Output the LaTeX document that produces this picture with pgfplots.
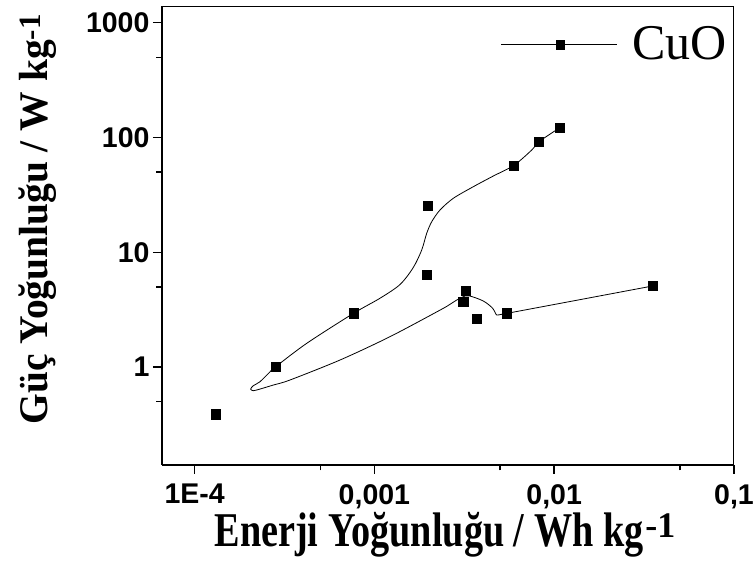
\documentclass[border=0pt]{standalone}
\usepackage{pgfplots}
\pgfplotsset{compat=1.18}
\usepackage{fontspec}
\setmainfont{Liberation Serif}
\setsansfont{Liberation Sans}
\usepackage{graphicx}
\begin{document}
\begin{tikzpicture}
\begin{axis}[
  at={(0,0)}, anchor=south west,
  scale only axis, width=572pt, height=459pt,
  xmode=log, ymode=log,
  xmin=6.585e-5, xmax=0.1,
  ymin=0.1404, ymax=1398,
  axis lines*=left,
  axis line style={-, line width=1.8pt},
  xtick={1e-4,1e-3,1e-2,1e-1},
  xticklabels={\textsf{\textbf{1E-4}},\textsf{\textbf{0,001}},\textsf{\textbf{0,01}},\textsf{\textbf{0,1}}},
  ytick={1,10,100,1000},
  yticklabels={\textsf{\textbf{1}},\textsf{\textbf{10}},\textsf{\textbf{100}},\textsf{\textbf{1000}}},
  minor xtick={5e-4,5e-3,5e-2},
  minor ytick={0.5,5,50,500},
  tick align=outside,
  major tick length=9pt, minor tick length=5.5pt,
  every tick/.style={black, line width=1.5pt},
  tick label style={font=\fontsize{28.5}{30}\selectfont\sffamily\bfseries},
  xticklabel style={inner sep=0pt, yshift=-10pt},
  xlabel={\scalebox{1}[1.27]{\fontsize{38.2}{40}\selectfont Enerji Yoğunluğu / Wh kg}\kern2pt\raisebox{9pt}{\fontsize{36}{36}\selectfont -1}},
  ylabel={\scalebox{1}[1.03]{\fontsize{39.5}{42}\selectfont Güç Yoğunluğu / W kg}\raisebox{7pt}{\fontsize{31}{31}\selectfont -1}},
  label style={font=\bfseries, inner sep=0pt},
  xlabel style={at={(axis description cs:0.4948,-0.1785)}, anchor=base},
  ylabel style={at={(axis description cs:-0.1993,0.5355)}, anchor=base},
  legend style={draw=none, fill=none, font=\fontsize{50}{50}\selectfont,
    at={(axis description cs:0.592,0.918)}, anchor=west,
    inner sep=0pt, nodes={inner sep=0pt}, column sep=15pt},
  after end axis/.code={\draw[line width=1pt] (rel axis cs:0,1) -- (rel axis cs:1,1) -- (rel axis cs:1,0);},
]
\addplot[black, line width=0.8pt, smooth, no marks, forget plot] coordinates {
 (3.53e-2,5.09) (1.391e-2,3.87) (5.46e-3,2.94) (5.10e-3,2.884) (4.79e-3,2.843)
 (4.69e-3,3.00) (4.55e-3,3.25) (4.30e-3,3.52) (4.03e-3,3.77) (3.71e-3,3.98)
 (3.40e-3,4.16) (3.19e-3,4.16) (2.87e-3,3.84) (2.63e-3,3.52) (2.32e-3,3.14)
 (1.22e-3,1.84) (6.44e-4,1.153) (3.39e-4,0.772) (2.74e-4,0.698) (2.31e-4,0.644)
 (2.12e-4,0.623) (2.05e-4,0.644) (2.12e-4,0.689) (2.31e-4,0.746) (2.63e-4,0.912)
 (2.83e-4,1.01) (4.20e-4,1.61) (7.65e-4,2.94) (1.074e-3,3.98) (1.388e-3,5.24)
 (1.645e-3,7.37) (1.833e-3,10.47) (1.954e-3,14.64) (2.084e-3,18.48) (2.317e-3,23.36)
 (2.747e-3,29.54) (3.548e-3,37.27) (4.585e-3,46.19) (5.975e-3,57.27) (7.50e-3,77.8)
 (8.23e-3,91.9) (1.074e-2,121.7)
};
\addplot[black, only marks, mark=square*, mark size=4.7pt, forget plot] coordinates {
 (1.31e-4,0.39) (2.83e-4,1.01) (7.66e-4,2.94) (1.96e-3,6.37) (1.98e-3,25.5)
 (3.22e-3,4.62) (3.12e-3,3.73) (3.71e-3,2.64) (5.46e-3,2.94) (5.97e-3,57.0)
 (8.23e-3,91.9) (1.074e-2,121.7) (3.53e-2,5.09)
};
\addlegendimage{legend image code/.code={
  \draw[black, line width=0.8pt] (0pt,-0.8pt) -- (116pt,-0.8pt);
  \draw[black] plot[mark=square*, mark size=4.4pt] coordinates {(59pt,-0.8pt)};}}
\addlegendentry{CuO}
\end{axis}
\pgfresetboundingbox
\path[use as bounding box] (-162pt,-105pt) rectangle (594pt,465pt);
\end{tikzpicture}
\end{document}
